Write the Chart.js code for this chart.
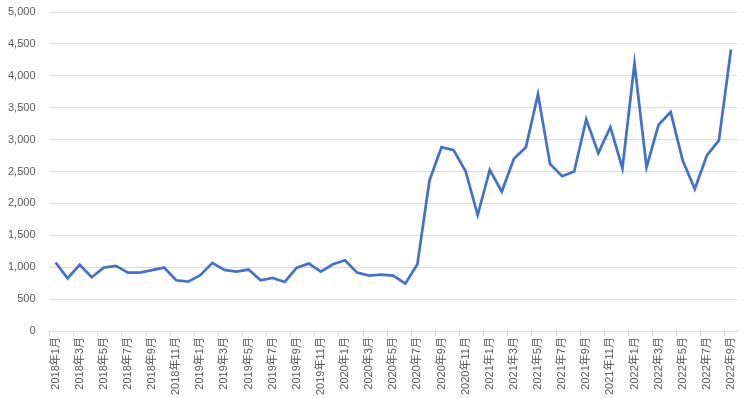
<!DOCTYPE html>
<html>
<head>
<meta charset="utf-8">
<script src="https://cdn.jsdelivr.net/npm/chart.js@4"></script>
<style>
  html, body { margin: 0; padding: 0; background: #fff; }
</style>
</head>
<body>
<canvas id="trendChart" width="750" height="398"></canvas>
<script>
// monthly counts, 2018年1月 .. 2022年9月
const years = [2018, 2019, 2020, 2021, 2022];
const months = [];
years.forEach(y => {
  for (let m = 1; m <= 12; m++) {
    if (y === 2022 && m > 9) break;
    months.push(y + "年" + m + "月");
  }
});

const counts = [
  1075, 828, 1038, 844, 995, 1022, 917, 917, 954, 995, 797, 775,
  876, 1069, 959, 933, 964, 797, 833, 770, 995, 1058, 933, 1048,
  1111, 917, 870, 886, 870, 744, 1048, 2358, 2882, 2835, 2505, 1819,
  2526, 2186, 2699, 2882, 3711, 2620, 2427, 2500, 3318, 2788, 3197, 2552,
  4193, 2568, 3234, 3432, 2673, 2228, 2752, 2987, 4413
];

const yMax = 5000;
const yStep = 500;

const tickFont = { family: "'Liberation Sans', 'Noto Sans CJK JP', sans-serif", size: 11 };
const tickColor = "#595959";

const ctx = document.getElementById("trendChart");

new Chart(ctx, {
  type: "line",
  data: {
    labels: months,
    datasets: [{
      data: counts,
      borderColor: "#4472C4",
      borderWidth: 2.75,
      pointRadius: 0,
      tension: 0,
      fill: false,
    }]
  },
  options: {
    responsive: false,
    animation: false,
    layout: { padding: { left: 5, right: 13, top: 12, bottom: 2 } },
    plugins: {
      legend: { display: false },
      tooltip: { enabled: false },
    },
    scales: {
      x: {
        offset: true,
        grid: {
          offset: true,
          drawOnChartArea: false,
          drawTicks: true,
          tickLength: 5,
          color: c => (c.index % 2 === 0 ? "#d9d9d9" : "rgba(0,0,0,0)"),
        },
        border: { display: true, color: "#d9d9d9" },
        ticks: {
          autoSkip: false,
          maxRotation: 90,
          minRotation: 90,
          padding: 1,
          color: tickColor,
          font: tickFont,
          callback: function (val, i) {
            return i % 2 === 0 ? this.getLabelForValue(val) : "";
          },
        },
      },
      y: {
        min: 0,
        max: yMax,
        grid: { color: "#d9d9d9", drawTicks: true, tickLength: 11, tickColor: "rgba(0,0,0,0)" },
        border: { display: false },
        ticks: {
          stepSize: yStep,
          padding: 3,
          color: tickColor,
          font: tickFont,
          callback: v => v.toLocaleString("en-US"),
        },
      },
    },
  },
});
</script>
</body>
</html>
